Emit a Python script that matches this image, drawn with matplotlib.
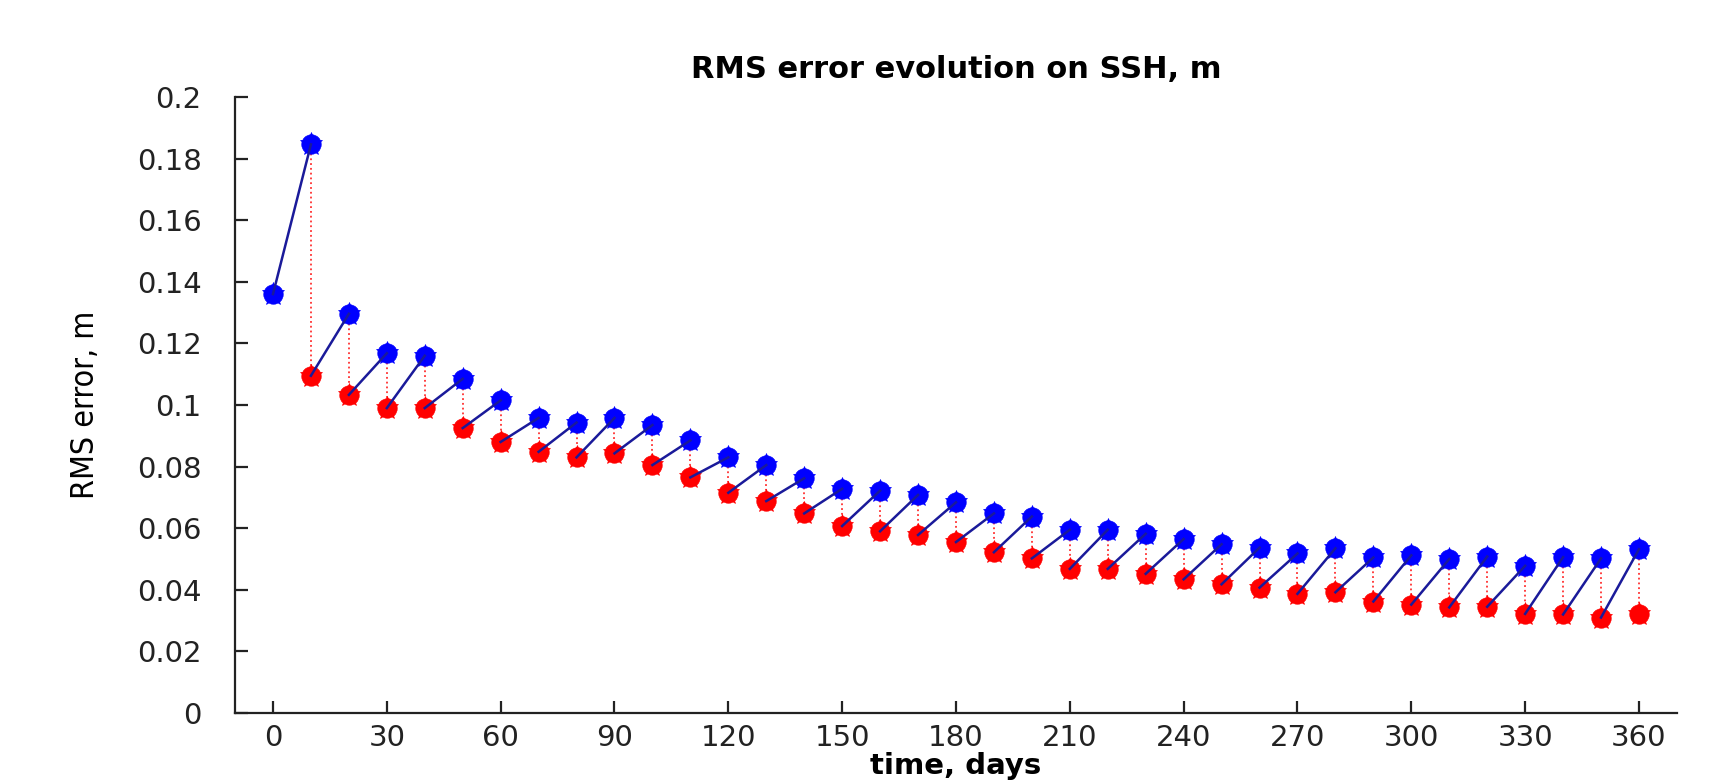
import matplotlib
matplotlib.use("Agg")
import matplotlib.pyplot as plt

# forecast (before analysis), every 10 days
t_fc = list(range(0, 370, 10))
rms_fc = [0.136, 0.1846, 0.1296, 0.1168, 0.116, 0.1085, 0.1015, 0.0958, 0.0943,
          0.0958, 0.0935, 0.0885, 0.0830, 0.0805, 0.0762, 0.0728, 0.0722, 0.0708,
          0.0684, 0.0648, 0.0638, 0.0595, 0.0595, 0.0582, 0.0565, 0.0548, 0.0537,
          0.0518, 0.0535, 0.0505, 0.0512, 0.0500, 0.0508, 0.0478, 0.0506, 0.0502,
          0.0532]

# analysis, after each update
t_an = list(range(10, 370, 10))
rms_an = [0.1095, 0.1033, 0.0990, 0.0990, 0.0925, 0.0880, 0.0848, 0.0830, 0.0843,
          0.0805, 0.0765, 0.0715, 0.0688, 0.0648, 0.0607, 0.0590, 0.0578, 0.0555,
          0.0522, 0.0502, 0.0468, 0.0468, 0.0452, 0.0434, 0.0418, 0.0407, 0.0387,
          0.0392, 0.0362, 0.0352, 0.0343, 0.0345, 0.0322, 0.0320, 0.0310, 0.0322]

xticks = list(range(0, 361, 30))
yticks = [0, 0.02, 0.04, 0.06, 0.08, 0.1, 0.12, 0.14, 0.16, 0.18, 0.2]
ytick_labels = ['0', '0.02', '0.04', '0.06', '0.08', '0.1', '0.12', '0.14',
                '0.16', '0.18', '0.2']

fig = plt.figure(figsize=(17.27, 7.82), dpi=100)
ax = fig.add_axes([0.1361, 0.0882, 0.8349, 0.7878])

# red dotted: forecast -> analysis at the same time
for t, a in zip(t_an, rms_an):
    f = rms_fc[t_fc.index(t)]
    ax.plot([t, t], [f, a], ':', color='#ff3030', lw=1.3, zorder=1)

# blue solid: from previous state to next forecast
ax.plot(t_fc[:2], rms_fc[:2], '-', color='#1a1a9a', lw=1.8, zorder=4)
for t, a in zip(t_an[:-1], rms_an[:-1]):
    i = t_fc.index(t) + 1
    ax.plot([t, t_fc[i]], [a, rms_fc[i]], '-', color='#1a1a9a', lw=1.8, zorder=4)

for mk, ms in (('o', 14), ('*', 17)):
    ax.plot(t_fc, rms_fc, ls='none', marker=mk, ms=ms, color='#0000ff',
            mec='#0000ff', mew=0.5, zorder=3)
    ax.plot(t_an, rms_an, ls='none', marker=mk, ms=ms, color='#ff0000',
            mec='#ff0000', mew=0.5, zorder=3)

ax.set_xlim(-10, 370)
ax.set_ylim(0, 0.2)
ax.set_xticks(xticks)
ax.set_yticks(yticks)
ax.set_yticklabels(ytick_labels)
ax.spines['top'].set_visible(False)
ax.spines['right'].set_visible(False)
for s in ('left', 'bottom'):
    ax.spines[s].set_linewidth(1.6)
    ax.spines[s].set_color('#222222')
ax.tick_params(direction='in', length=9, width=1.6, colors='#222222',
               labelsize=21)
ax.tick_params(axis='y', pad=24)
ax.tick_params(axis='x', pad=8)

ax.set_title('RMS error evolution on SSH, m', fontsize=22, fontweight='bold',
             pad=14)
ax.set_xlabel('time, days', fontsize=21, fontweight='bold', labelpad=0)
ax.set_ylabel('RMS error, m', fontsize=23,
              family=['Liberation Sans Narrow', 'DejaVu Sans'],
              fontstretch='condensed', labelpad=26)

fig.savefig('out.png', dpi=100)
